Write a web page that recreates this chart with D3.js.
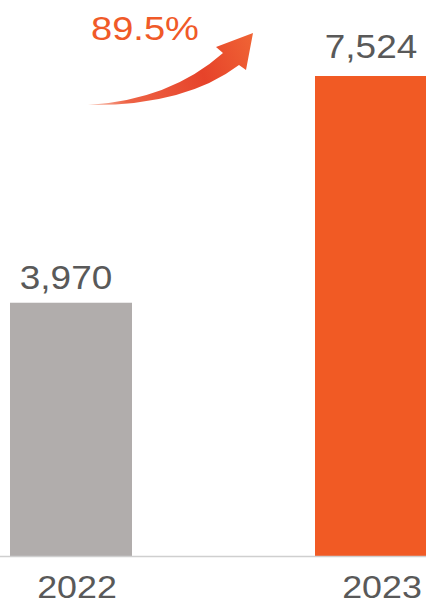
<!DOCTYPE html>
<html>
<head>
<meta charset="utf-8">
<script src="https://cdn.jsdelivr.net/npm/d3@7"></script>
<style>
  body { margin: 0; background: #fff; }
  svg { display: block; }
</style>
</head>
<body>
<svg id="chart" width="426" height="604"></svg>
<script>
var years = ['2022', '2023'];
var values = [3970, 7524];
var valueLabels = ['3,970', '7,524'];
var growthLabel = '89.5%';
var barColors = ['#b1adac', '#f15a24'];

var WIDTH = 426, HEIGHT = 604;
var BASE = 556;

var svg = d3.select('#chart');

var x = d3.scaleBand()
  .domain(years)
  .range([10, 437])
  .paddingInner(0.6)
  .paddingOuter(0);

var y = d3.scaleLinear()
  .domain([0, 7524])
  .range([BASE, 76]);

// bars
svg.selectAll('.bar')
  .data(years)
  .enter().append('rect')
  .attr('class', 'bar')
  .attr('x', function (d) { return x(d); })
  .attr('y', function (d, i) { return y(values[i]); })
  .attr('width', x.bandwidth())
  .attr('height', function (d, i) { return BASE - y(values[i]); })
  .attr('fill', function (d, i) { return barColors[i]; });

// baseline
svg.append('line')
  .attr('x1', 0).attr('x2', WIDTH)
  .attr('y1', BASE + 0.5).attr('y2', BASE + 0.5)
  .attr('stroke', '#cfcfcf')
  .attr('stroke-width', 1.5);

function stretchedText(txt, cx, cy, size, color) {
  svg.append('text')
    .attr('transform', 'translate(' + cx + ',' + cy + ') scale(1.12,1)')
    .attr('text-anchor', 'middle')
    .attr('font-family', 'Liberation Sans, Arial, sans-serif')
    .attr('font-size', size)
    .attr('fill', color)
    .text(txt);
}

// value labels
years.forEach(function (d, i) {
  var cx = x(d) + x.bandwidth() / 2 - 5;
  stretchedText(valueLabels[i], cx, y(values[i]) - (i === 0 ? 14 : 18), 33, '#595959');
});

// year labels
years.forEach(function (d) {
  stretchedText(d, x(d) + x.bandwidth() / 2 + 6, 598, 32, '#595959');
});

// growth arrow
var defs = svg.append('defs');
var grad = defs.append('linearGradient')
  .attr('id', 'arrowGrad')
  .attr('gradientUnits', 'userSpaceOnUse')
  .attr('x1', 88).attr('y1', 105)
  .attr('x2', 254).attr('y2', 33);
grad.append('stop').attr('offset', '0%').attr('stop-color', '#f38a6c').attr('stop-opacity', 0.5);
grad.append('stop').attr('offset', '20%').attr('stop-color', '#ee6446');
grad.append('stop').attr('offset', '65%').attr('stop-color', '#e6432a');
grad.append('stop').attr('offset', '100%').attr('stop-color', '#f06535');

var p = d3.path();
p.moveTo(88, 105);
p.quadraticCurveTo(170, 100, 223, 53);
p.lineTo(216, 47);
p.lineTo(253, 33);
p.lineTo(246, 70);
p.lineTo(239, 65);
p.quadraticCurveTo(185, 106, 88, 105);
p.closePath();

svg.append('path')
  .attr('d', p.toString())
  .attr('fill', 'url(#arrowGrad)');

svg.append('text')
  .attr('transform', 'translate(145,40) scale(1.12,1)')
  .attr('text-anchor', 'middle')
  .attr('font-family', 'Liberation Sans, Arial, sans-serif')
  .attr('font-size', 34)
  .attr('fill', '#f05a28')
  .text(growthLabel);
</script>
</body>
</html>
